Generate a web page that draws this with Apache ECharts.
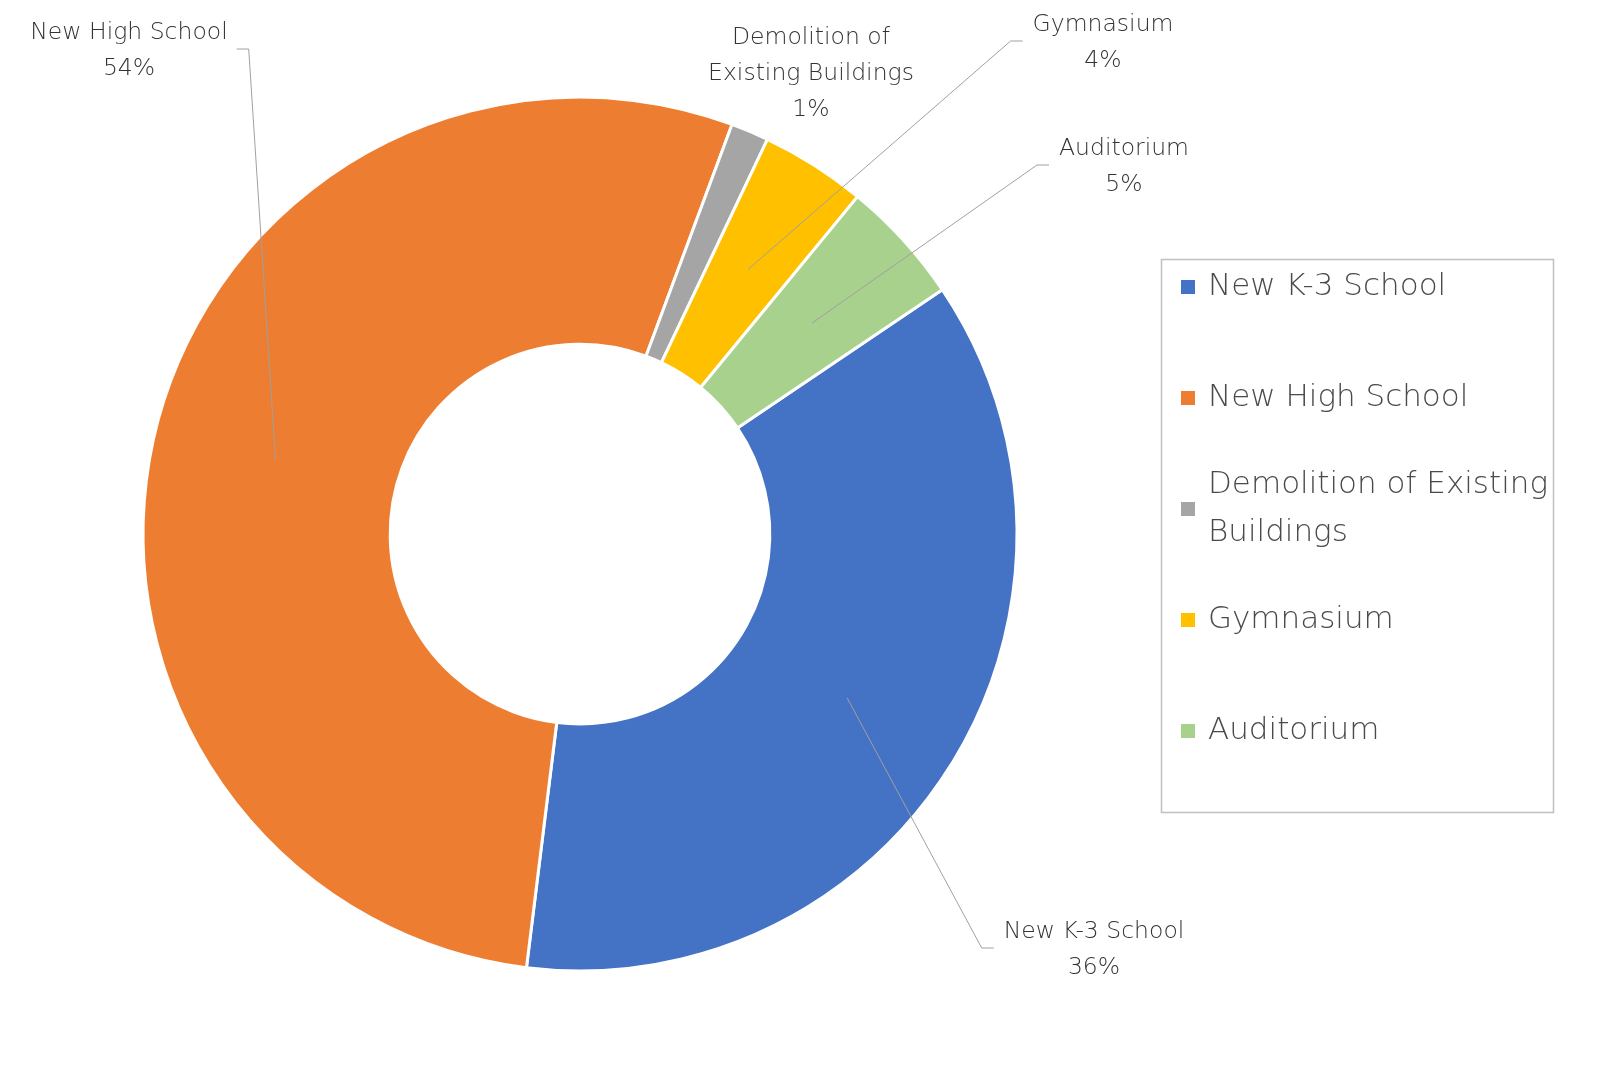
<!DOCTYPE html>
<html lang="en">
<head>
    <meta charset="UTF-8">
    <title>Project Cost Share</title>
    <script src="https://cdn.jsdelivr.net/npm/echarts@6/dist/echarts.min.js"></script>
    <style>
        html, body { margin: 0; padding: 0; background: #fff; }
        #container { width: 1600px; height: 1091px; }
    </style>
</head>
<body>
<div id="container"></div>
<script type="text/javascript">

    // data (share of total cost, %)
    var projects = ['New K-3 School', 'New High School', 'Demolition of Existing Buildings', 'Gymnasium', 'Auditorium'];
    var shares = [36.4, 53.7, 1.4, 3.9, 4.6];
    var sliceColors = ['#4472C4', '#ED7D31', '#A5A5A5', '#FFC000', '#A9D18E'];

    var dom = document.getElementById('container');
    var myChart = echarts.init(dom);
    var W = myChart.getWidth(), H = myChart.getHeight();

    var fontFamily = '"DejaVu Sans", sans-serif';
    var CX = 0.3625, CY = 0.4895, R_IN = 0.348, R_OUT = 0.801;
    var center = [CX * 100 + '%', CY * 100 + '%'];
    var radius = [R_IN * 100 + '%', R_OUT * 100 + '%'];

    // centre of each data label, where Excel had put them
    var labelSpots = [[1094, 950], [129, 51], [811, 74], [1103, 43], [1124, 167]];

    function buildData() {
        return projects.map(function (name, i) {
            return { name: name, value: shares[i] };
        });
    }

    var sliceData = buildData();
    // same slices again, invisible, only to carry labels + leader lines above the ring
    var labelData = buildData();
    labelData[2].labelLine = { show: false };
    labelData[2].label = { formatter: 'Demolition of\nExisting Buildings\n{d}%' };

    var legendData = projects.map(function (name, i) {
        var item = { name: name };
        if (i === 2) {
            item.textStyle = { padding: [48, 0, 0, 7], width: 352, overflow: 'break' };
        }
        return item;
    });

    var option = {
        animation: false,
        color: sliceColors,
        legend: {
            orient: 'vertical',
            left: 1179,
            top: 215,
            padding: 0,
            itemWidth: 16,
            itemHeight: 16,
            itemGap: -33,
            icon: 'rect',
            selectedMode: false,
            textStyle: {
                fontFamily: fontFamily,
                fontWeight: 300,
                fontSize: 31,
                lineHeight: 48,
                color: '#4a4a4a',
                padding: [48, 0, 48, 7],
                backgroundColor: 'transparent'
            },
            data: legendData
        },
        graphic: [{
            type: 'rect',
            left: 1159,
            top: 257,
            silent: true,
            shape: { width: 392, height: 553 },
            style: { fill: 'none', stroke: '#C0C0C0', lineWidth: 1.5 }
        }],
        series: [{
            name: 'Cost',
            type: 'pie',
            center: center,
            radius: radius,
            startAngle: 34,
            clockwise: true,
            emphasis: { disabled: true },
            itemStyle: {
                borderColor: '#fff',
                borderWidth: 3
            },
            label: { show: false },
            labelLine: { show: false },
            data: sliceData
        }, {
            name: 'Labels',
            type: 'pie',
            z: 3,
            silent: true,
            center: center,
            radius: radius,
            startAngle: 34,
            clockwise: true,
            avoidLabelOverlap: false,
            percentPrecision: 0,
            emphasis: { disabled: true },
            itemStyle: { color: 'transparent', borderWidth: 0 },
            label: {
                show: true,
                position: 'outside',
                formatter: '{b}\n{d}%',
                fontFamily: fontFamily,
                fontWeight: 300,
                fontSize: 23.5,
                lineHeight: 36,
                color: '#333333'
            },
            labelLine: {
                show: true,
                length: 20,
                length2: 20,
                lineStyle: { color: '#A0A0A0', width: 1 }
            },
            labelLayout: function (p) {
                var spot = labelSpots[p.dataIndex];
                var out = { x: spot[0], y: spot[1], align: 'center', verticalAlign: 'middle' };
                if (p.labelLinePoints) {
                    // leader line starts in the middle of the ring, like Excel does
                    var cx = W * CX, cy = H * CY;
                    var rMid = (R_IN + R_OUT) / 2 * Math.min(W, H) / 2;
                    var p0 = p.labelLinePoints[0];
                    var dx = p0[0] - cx, dy = p0[1] - cy;
                    var len = Math.sqrt(dx * dx + dy * dy) || 1;
                    var start = [cx + dx / len * rMid, cy + dy / len * rMid];
                    var w = p.labelRect.width;
                    var lineY = spot[1] - 2;
                    var leftSide = spot[0] < cx;
                    var endX = leftSide ? spot[0] + w / 2 + 9 : spot[0] - w / 2 - 10;
                    var elbowX = leftSide ? endX + 12 : endX - 12;
                    out.labelLinePoints = [start, [elbowX, lineY], [endX, lineY]];
                }
                return out;
            },
            data: labelData
        }]
    };

    myChart.setOption(option);

</script>
</body>
</html>
